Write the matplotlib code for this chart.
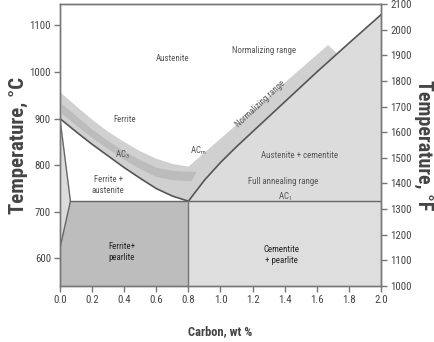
import matplotlib
matplotlib.use("Agg")
import matplotlib.pyplot as plt
from matplotlib import font_manager as fm
import numpy as np
import glob, os

# ---- font: prefer a narrow / condensed sans if one is installed ----
FAM = None
for name in ['Roboto Condensed', 'Open Sans Condensed', 'Liberation Sans Narrow',
             'Arial Narrow', 'Noto Sans Condensed', 'DejaVu Sans Condensed']:
    try:
        fm.findfont(fm.FontProperties(family=name), fallback_to_default=False)
        FAM = name
        break
    except Exception:
        pass
if FAM is None:
    files = []
    for pat in ['/usr/share/fonts/**/*Condensed*.ttf', '/usr/share/fonts/**/*Narrow*.ttf',
                '/usr/share/fonts/**/*Condensed*.otf', '/usr/local/share/fonts/**/*Condensed*.ttf',
                '/usr/local/share/fonts/**/*Narrow*.ttf']:
        files += glob.glob(pat, recursive=True)
    files = [f for f in files if 'Oblique' not in f and 'Italic' not in f]
    for f in files:
        try:
            fm.fontManager.addfont(f)
        except Exception:
            pass
    regs = [f for f in files if 'Bold' not in f and 'Light' not in f and 'Thin' not in f]
    if regs:
        regs.sort(key=lambda p: (0 if 'Roboto' in p else 1 if 'Liberation' in p else 2))
        FAM = fm.FontProperties(fname=regs[0]).get_name()
CONDENSED = FAM is not None
if FAM is None:
    FAM = 'DejaVu Sans'
plt.rcParams['font.family'] = [FAM, 'DejaVu Sans']
if FAM == 'DejaVu Sans' and CONDENSED:
    plt.rcParams['font.stretch'] = 'condensed'
plt.rcParams['mathtext.fontset'] = 'custom'
plt.rcParams['mathtext.rm'] = FAM
SCALE = 1.0 if CONDENSED else 0.85

# ---- data ----
a3_c = [0.0, 0.1, 0.2, 0.3, 0.4, 0.5, 0.6, 0.7, 0.8]
a3_T = [900, 872, 845, 820, 795, 772, 750, 734, 723]
acm_c = [0.8, 0.9, 1.0, 1.1, 1.2, 1.4, 1.6, 1.8, 2.0]
acm_T = [723, 768, 806, 840, 872, 936, 1000, 1062, 1123]
norm_top_c = [0.0, 0.1, 0.2, 0.3, 0.4, 0.5, 0.6, 0.7, 0.8, 1.67]
norm_top_T = [957, 927, 898, 872, 850, 830, 814, 803, 797, 1058]
norm_end = (1.72, 1042)
dark_c = [0.0, 0.1, 0.2, 0.3, 0.4, 0.5, 0.6, 0.7, 0.8, 0.85]
dark_top_T = [935, 906, 877, 852, 830, 811, 795, 788, 786, 786]
dark_bot_c = [0.0, 0.1, 0.2, 0.3, 0.4, 0.5, 0.6, 0.7, 0.8, 0.82]
dark_bot_T = [914, 886, 859, 835, 812, 792, 775, 768, 766, 766]
ferrite_c = [0.0, 0.065, 0.0]
ferrite_T = [900, 723, 623]
eut_c, eut_T = 0.8, 723
T_min, T_max = 541, 1146
F_min, F_max = 1000, 2100

xticks = [0.0, 0.2, 0.4, 0.6, 0.8, 1.0, 1.2, 1.4, 1.6, 1.8, 2.0]
yticks_C = [600, 700, 800, 900, 1000, 1100]
yticks_F = list(range(1000, 2101, 100))

labels = [
    ("Austenite", 0.70, 1030, 0, '#555555'),
    ("Normalizing range", 1.27, 1047, 0, '#555555'),
    ("Ferrite", 0.40, 899, 0, '#555555'),
    ("AC$_\\mathrm{3}$", 0.39, 822, 0, '#555555'),
    ("AC$_\\mathrm{m}$", 0.86, 832, 0, '#555555'),
    ("Normalizing range", 1.25, 931, 43, '#555555'),
    ("Austenite + cementite", 1.49, 822, 0, '#555555'),
    ("Full annealing range", 1.39, 765, 0, '#555555'),
    ("AC$_\\mathrm{1}$", 1.40, 732, 0, '#555555'),
    ("Ferrite +\naustenite", 0.30, 758, 0, '#555555'),
    ("Ferrite+\npearlite", 0.385, 614, 0, '#222222'),
    ("Cementite\n+ pearlite", 1.38, 607, 0, '#222222'),
]

fig = plt.figure(figsize=(4.34, 3.42), dpi=100)
ax = fig.add_axes([60/434, 1-286/342, 321/434, 282/342])
ax.set_xlim(0, 2.0)
ax.set_ylim(T_min, T_max)

# regions
ax.fill([eut_c, eut_c, 2.0, 2.0], [T_min, eut_T, eut_T, T_min], color='#dedede', lw=0, zorder=1)
ax.fill(acm_c + [2.0], acm_T + [eut_T], color='#dcdcdc', lw=0, zorder=1)
ax.fill([ferrite_c[1], eut_c, eut_c, 0, 0], [eut_T, eut_T, T_min, T_min, ferrite_T[2]],
        color='#bdbdbd', lw=0, zorder=1)
ax.fill(ferrite_c, ferrite_T, color='#dcdcdc', lw=0, zorder=1)

# normalizing band
acm_arr_c = np.array(acm_c); acm_arr_T = np.array(acm_T)
end_T_on_acm = np.interp(norm_end[0], acm_arr_c, acm_arr_T)
low_c = [c for c in acm_c[::-1] if c < norm_end[0]]
low_T = [t for c, t in zip(acm_c[::-1], acm_T[::-1]) if c < norm_end[0]]
band_x = norm_top_c + [norm_end[0], norm_end[0]] + low_c + a3_c[::-1]
band_y = norm_top_T + [norm_end[1], end_T_on_acm] + low_T + a3_T[::-1]
ax.fill(band_x, band_y, color='#d0d0d0', lw=0, zorder=2)
# annealing (darker) band
ax.fill(dark_c + dark_bot_c[::-1], dark_top_T + dark_bot_T[::-1], color='#bcbcbc', lw=0, zorder=3)

# lines
lc = '#555555'
ax.plot(a3_c, a3_T, color=lc, lw=1.2, zorder=5)
ax.plot(acm_c, acm_T, color=lc, lw=1.2, zorder=5)
ax.plot([ferrite_c[1], 2.0], [eut_T, eut_T], color='#666666', lw=1.0, zorder=5)
ax.plot([eut_c, eut_c], [T_min, eut_T], color='#777777', lw=1.0, zorder=5)
ax.plot(ferrite_c, ferrite_T, color='#666666', lw=1.0, zorder=5)

for txt, x, y, rot, col in labels:
    ax.text(x, y, txt, ha='center', va='center', rotation=rot, color=col,
            fontsize=6.4 * SCALE, linespacing=1.3, zorder=6)

spc = '#777777'
for s in ax.spines.values():
    s.set_color(spc); s.set_linewidth(1.0)
ax.set_xticks(xticks)
ax.set_xticklabels([f"{v:.1f}" for v in xticks])
ax.set_yticks(yticks_C)
ax.tick_params(colors=spc, labelcolor='#444444', labelsize=7.8 * SCALE, length=4, width=1, pad=2.5)

ax2 = ax.twinx()
ax2.set_ylim(F_min, F_max)
ax2.set_yticks(yticks_F)
ax2.tick_params(colors=spc, labelcolor='#444444', labelsize=7.8 * SCALE, length=4, width=1, pad=2.5)
for s in ax2.spines.values():
    s.set_color(spc); s.set_linewidth(1.0)

ax.set_ylabel("Temperature, °C", fontsize=15 * SCALE, fontweight='bold', color='#444444')
ax2.set_ylabel("Temperature, °F", fontsize=14.5 * SCALE, fontweight='bold', color='#444444', rotation=-90)
ax.yaxis.set_label_coords(-42/321, 0.5)
ax2.yaxis.set_label_coords(1 + 43/321, 0.5)
ax.yaxis.label.set_va('center')
ax2.yaxis.label.set_va('center')
ax.set_xlabel("Carbon, wt %", fontsize=9 * SCALE, fontweight='bold', color='#444444')
ax.xaxis.set_label_coords(0.5, -46/282)
ax.xaxis.label.set_va('center')

fig.savefig("out.png", dpi=100)
